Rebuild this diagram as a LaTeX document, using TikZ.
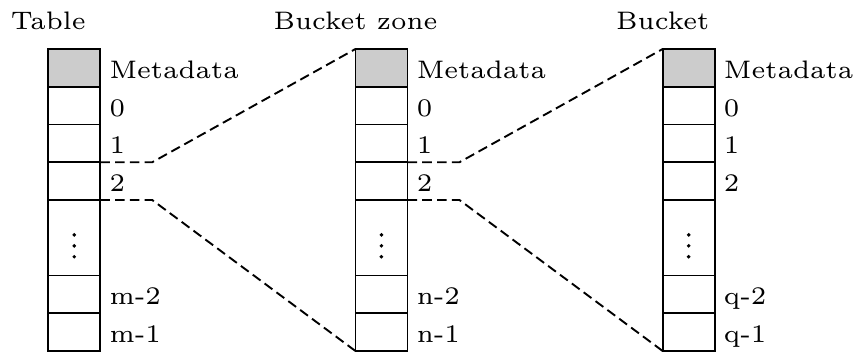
\documentclass[tikz,border=0pt]{standalone}
\usepackage{tikz}
\usetikzlibrary{positioning,calc}

\begin{document}
\begin{tikzpicture}[
    font=\fontsize{6}{7}\selectfont,
    node distance=0pt,
    cell/.style={draw, rectangle, minimum width=0.433cm, minimum height=0.3145cm, inner sep=0pt, outer sep=0pt, line width=0.45pt},
    meta/.style={cell, fill=gray!40},
    gap/.style={cell, minimum height=0.629cm},
    entry/.style={anchor=west, text height=5pt, text depth=0pt, inner sep=2pt},
    title/.style={text depth=0pt, inner sep=0pt},
    link/.style={line width=0.45pt, dash pattern=on 2.3pt off 1.2pt}
]
    \useasboundingbox (-0.402,0.408) rectangle (6.728,-2.524);

    % Columns: Table, Bucket zone, Bucket
    \foreach \col/\x/\name/\idx in {tab/0/Table/m, zone/2.559/Bucket zone/n, bkt/5.118/Bucket/q} {
        \node [meta, anchor=north west] (\col-meta) at (\x,0) {};
        \node [cell, below=of \col-meta] (\col-0) {};
        \node [cell, below=of \col-0] (\col-1) {};
        \node [cell, below=of \col-1] (\col-2) {};
        \node [gap, below=of \col-2] (\col-dots) {};
        \node [cell, below=of \col-dots] (\col-last2) {};
        \node [cell, below=of \col-last2] (\col-last1) {};

        % vertical dots
        \foreach \dy in {0.7,-1.9,-4.5}
            \fill ([yshift=\dy pt]\col-dots.center) circle (0.47pt);

        \node [title, above=4.5pt of \col-meta.north west] (\col-title) {\name};

        \node [entry] (\col-meta-txt) at (\col-meta.east) {Metadata};
        \node [entry] (\col-0-txt) at (\col-0.east) {0};
        \node [entry] (\col-1-txt) at (\col-1.east) {1};
        \node [entry] (\col-2-txt) at (\col-2.east) {2};
        \node [entry] (\col-last2-txt) at (\col-last2.east) {\idx-2};
        \node [entry] (\col-last1-txt) at (\col-last1.east) {\idx-1};
    }

    % Connections
    \draw [link] (tab-2.north east) -- ++(0.433,0) -- (zone-meta.north west);
    \draw [link] (tab-2.south east) -- ++(0.433,0) -- (zone-last1.south west);

    \draw [link] (zone-2.north east) -- ++(0.433,0) -- (bkt-meta.north west);
    \draw [link] (zone-2.south east) -- ++(0.433,0) -- (bkt-last1.south west);

\end{tikzpicture}
\end{document}
